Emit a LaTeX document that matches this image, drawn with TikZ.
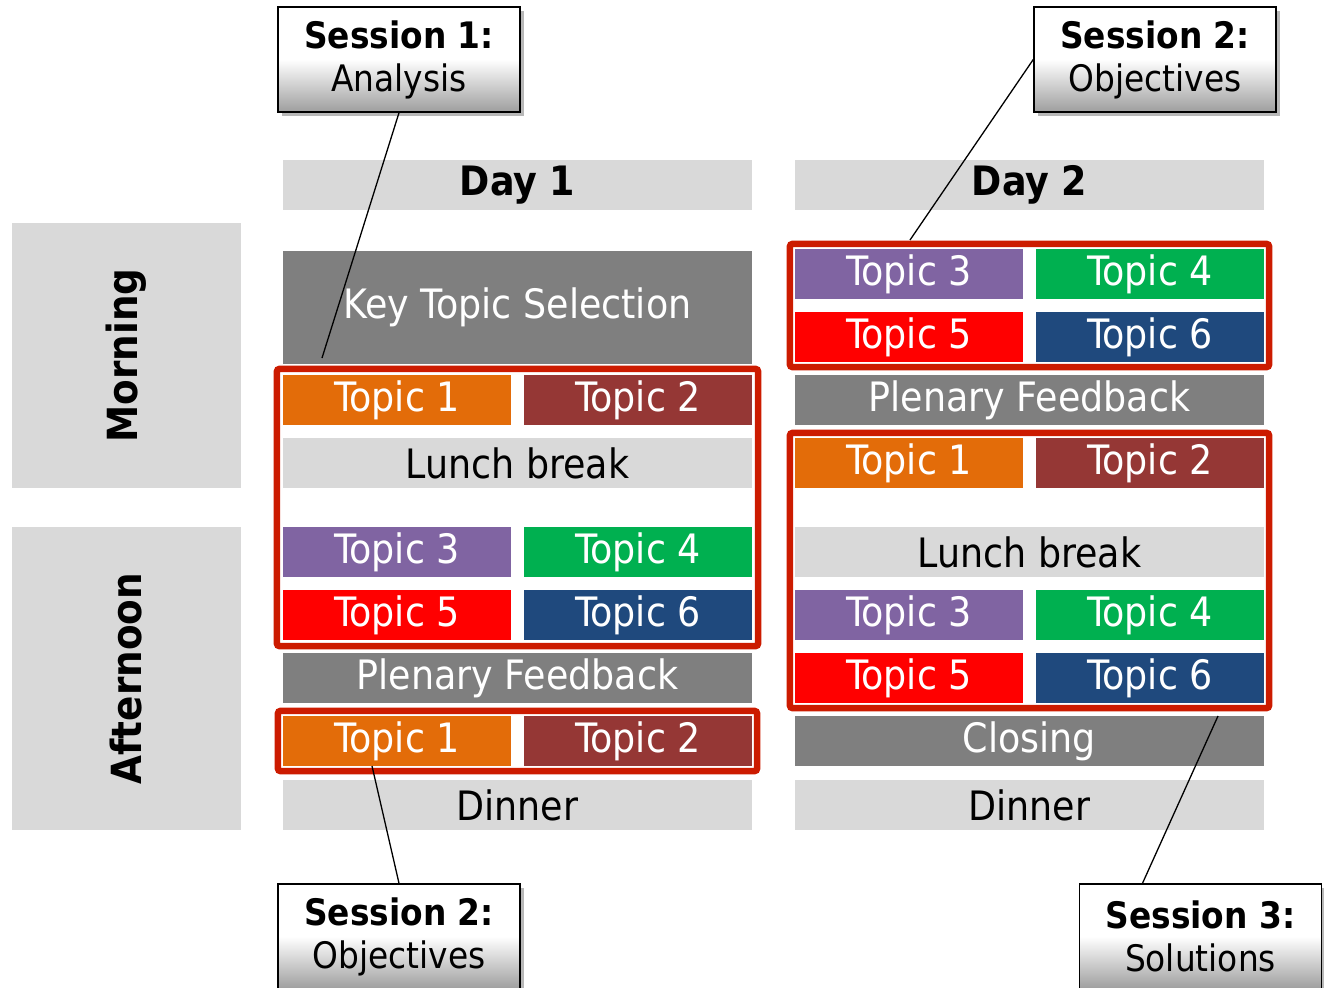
\documentclass[tikz,border=0pt]{standalone}
\usepackage{fontspec}
\setmainfont{DejaVu Sans Condensed}
\usetikzlibrary{positioning, fit, shadows}
\definecolor{slotpale}{HTML}{D9D9D9}
\definecolor{slotdark}{HTML}{7F7F7F}
\definecolor{topicA}{HTML}{E36C09}
\definecolor{topicB}{HTML}{953735}
\definecolor{topicC}{HTML}{8064A2}
\definecolor{topicD}{HTML}{00B050}
\definecolor{topicE}{HTML}{FF0000}
\definecolor{topicF}{HTML}{1F497D}
\definecolor{sessionred}{HTML}{CC1B00}
\tikzset{
    slot/.style={rectangle, inner sep=0pt, minimum height=50pt, text=white,
        font=\fontsize{40.5}{44}\selectfont},
    half/.style={slot, minimum width=228pt},
    full/.style={slot, minimum width=469pt},
    pale/.style={full, fill=slotpale, text=black},
    dark/.style={full, fill=slotdark},
    header/.style={pale, font=\bfseries\fontsize{40.5}{44}\selectfont},
    period/.style={rectangle, fill=slotpale, minimum width=229pt, inner sep=0pt},
    periodtext/.style={rotate=90, font=\bfseries\fontsize{41.5}{44}\selectfont},
    session/.style={draw=sessionred, line width=6.5pt, rounded corners=3pt, inner sep=6pt},
    callout/.style={draw=black, line width=1.5pt, top color=white, bottom color=black!38,
        middle color=white, minimum width=242pt, minimum height=105pt, inner sep=0pt,
        align=center, font=\fontsize{36.5}{43}\selectfont,
        drop shadow={shadow xshift=4pt, shadow yshift=-4pt, fill=black!35, opacity=0.8}},
    pointer/.style={black, line width=1.3pt}
}

\begin{document}
\begin{tikzpicture}[x=1pt, y=-1pt]
    \useasboundingbox (0,0) rectangle (1324,987);
    \clip (0,0) rectangle (1324,987);
    % morning / afternoon
    \node[period, minimum height=265pt] (morning) at (126.5,355.5) {};
    \node[periodtext] at (morning) {Morning};
    \node[period, minimum height=303pt] (afternoon) at (126.5,678.5) {};
    \node[periodtext] at (afternoon) {Afternoon};

    % day 1
    \node[header] (d1) at (517.5,185) {Day 1};
    \node[dark, minimum height=113pt] (key) at (517.5,307) {Key Topic Selection};
    \node[half, fill=topicA] (d1t1) at (397,400) {Topic 1};
    \node[half, fill=topicB] (d1t2) at (638,400) {Topic 2};
    \node[pale] (d1lunch) at (517.5,463) {Lunch break};
    \node[half, fill=topicC] (d1t3) at (397,552) {Topic 3};
    \node[half, fill=topicD] (d1t4) at (638,552) {Topic 4};
    \node[half, fill=topicE] (d1t5) at (397,615) {Topic 5};
    \node[half, fill=topicF] (d1t6) at (638,615) {Topic 6};
    \node[dark] (d1plen) at (517.5,678) {Plenary Feedback};
    \node[half, fill=topicA] (d1u1) at (397,741) {Topic 1};
    \node[half, fill=topicB] (d1u2) at (638,741) {Topic 2};
    \node[pale] (d1dinner) at (517.5,805) {Dinner};

    % day 2
    \node[header] (d2) at (1029.5,185) {Day 2};
    \node[half, fill=topicC] (d2t3) at (909,274) {Topic 3};
    \node[half, fill=topicD] (d2t4) at (1150,274) {Topic 4};
    \node[half, fill=topicE] (d2t5) at (909,337) {Topic 5};
    \node[half, fill=topicF] (d2t6) at (1150,337) {Topic 6};
    \node[dark] (d2plen) at (1029.5,400) {Plenary Feedback};
    \node[half, fill=topicA] (d2u1) at (909,463) {Topic 1};
    \node[half, fill=topicB] (d2u2) at (1150,463) {Topic 2};
    \node[pale] (d2lunch) at (1029.5,552) {Lunch break};
    \node[half, fill=topicC] (d2u3) at (909,615) {Topic 3};
    \node[half, fill=topicD] (d2u4) at (1150,615) {Topic 4};
    \node[half, fill=topicE] (d2u5) at (909,678) {Topic 5};
    \node[half, fill=topicF] (d2u6) at (1150,678) {Topic 6};
    \node[dark] (d2close) at (1029.5,741) {Closing};
    \node[pale] (d2dinner) at (1029.5,805) {Dinner};

    % sessions
    \node[session, fit=(d1t1)(d1t6)] (ses1) {};
    \node[session, inner sep=5pt, fit=(d1u1)(d1u2)] (ses2) {};
    \node[session, inner sep=5pt, fit=(d2t3)(d2t6)] (ses3) {};
    \node[session, inner sep=5pt, fit=(d2u1)(d2u6)] (ses4) {};

    % callouts
    \coordinate (p1) at (322,358);
    \coordinate (p2) at (910,240);
    \coordinate (p3) at (372,766);
    \coordinate (p4) at (1218,716);
    \node[callout] (c1) at (399,59.5) {\textbf{Session 1:}\\Analysis};
    \node[callout] (c2) at (1155,59.5) {\textbf{Session 2:}\\Objectives};
    \node[callout] (c3) at (399,936.5) {\textbf{Session 2:}\\Objectives};
    \node[callout] (c4) at (1200.5,936.5) {\textbf{Session 3:}\\Solutions};
    \draw[pointer] (c1.south) -- (p1);
    \draw[pointer] (c2.west) -- (p2);
    \draw[pointer] (c3.north) -- (p3);
    \draw[pointer] ([xshift=-58pt]c4.north) -- (p4);
\end{tikzpicture}
\end{document}
